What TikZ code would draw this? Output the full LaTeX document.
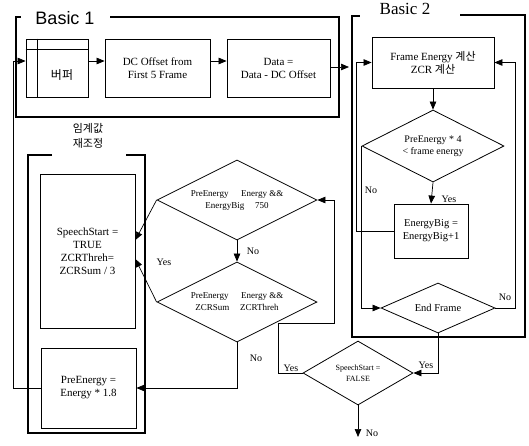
\documentclass[tikz,border=0pt]{standalone}
\usepackage{fontspec}
\setmainfont{Liberation Serif}
\newfontfamily\kr{Noto Sans CJK KR}
\newfontfamily\hdsans{Liberation Sans}
\usetikzlibrary{shapes.geometric,arrows.meta}
\tikzset{
  box/.style={draw, line width=0.8pt, align=center, inner sep=0pt, font=\fontsize{11}{13}\selectfont},
  dia/.style={draw, diamond, aspect=2, line width=0.8pt, align=center, inner sep=0pt},
  conn/.style={line width=0.7pt},
  arr/.style={conn, -{Triangle[length=8pt,width=6.5pt]}},
  bracket/.style={line width=2.4pt},
  lbl/.style={font=\fontsize{10}{12}\selectfont, inner sep=0pt},
}
\begin{document}
\begin{tikzpicture}[x=1pt,y=-1pt]
\useasboundingbox (0,0) rectangle (529,445);
% helper coordinates
\coordinate (r1) at (0,61);
\coordinate (r2) at (0,67);
\coordinate (lx) at (13,0);
\coordinate (fx) at (356,0);
\coordinate (rx) at (515,0);
\coordinate (ya) at (0,240);
\coordinate (yb) at (0,259);
\coordinate (b2in) at (349,67);
\coordinate (loopA) at (278,323);
\coordinate (loopB) at (334,323);
\coordinate (outend) at (358,437);

% brackets
\draw[bracket] (110,17) -- (339,17) -- (339,117) -- (16,117) -- (16,17) -- (21,17);
\node[font=\hdsans\fontsize{18}{20}\selectfont, inner sep=0pt] (t1) at (65,18) {Basic 1};
\draw[bracket] (460,15) -- (525,15) -- (525,337) -- (352,337) -- (352,16) -- (360,16);
\node[font=\fontsize{17}{19}\selectfont, inner sep=0pt] (t2) at (405,9) {Basic 2};
\draw[bracket] (52,155) -- (28,155) -- (28,433) -- (145,433) -- (145,155) -- (126,155);
\node[font=\kr\fontsize{11}{15}\selectfont, align=center, inner sep=0pt] (t3) at (88,136) {임계값\\재조정};

% nodes
\node[box, minimum width=62pt, minimum height=58pt] (buf) at (57,68) {};
\draw[line width=0.8pt] ([xshift=12pt]buf.north west) -- ([xshift=12pt]buf.south west);
\draw[line width=0.8pt] ([yshift=-11pt]buf.north west) -- ([yshift=-11pt]buf.north east);
\node[font=\kr\fontsize{12}{14}\selectfont, inner sep=0pt] (buftxt) at (62,75) {버퍼};
\node[box, minimum width=105pt, minimum height=58pt] (dc) at (157.5,68) {DC Offset from\\First 5 Frame};
\node[box, minimum width=103pt, minimum height=58pt] (data) at (278.5,68) {Data =\\Data - DC Offset};
\node[box, minimum width=122pt, minimum height=51pt] (fe) at (433,62.5) {Frame Energy {\kr 계산}\\ZCR {\kr 계산}};
\node[dia, minimum width=142pt, minimum height=72pt, font=\fontsize{10}{12}\selectfont] (d4) at (433,146) {PreEnergy * 4\\{<}\ frame energy};
\node[box, minimum width=74pt, minimum height=54pt, font=\fontsize{10.5}{13}\selectfont] (eb) at (431,231) {EnergyBig =\\EnergyBig+1};
\node[dia, minimum width=114pt, minimum height=50pt, font=\fontsize{10.5}{12}\selectfont] (ef) at (438,308) {End Frame};
\node[dia, minimum width=110pt, minimum height=64pt, font=\fontsize{8}{11}\selectfont] (ssf) at (358,373) {SpeechStart =\\FALSE};
\node[dia, minimum width=160pt, minimum height=80pt, font=\fontsize{9}{12}\selectfont] (d1) at (237,200) {PreEnergy\hspace{1.4em}Energy \&\&\\EnergyBig\hspace{1.2em}750};
\node[dia, minimum width=160pt, minimum height=80pt, font=\fontsize{9}{12}\selectfont] (d2) at (237,302) {PreEnergy\hspace{1.4em}Energy \&\&\\ZCRSum\hspace{1.2em}ZCRThreh};
\node[box, minimum width=95pt, minimum height=154pt] (sst) at (87.5,251) {SpeechStart =\\TRUE\\ZCRThreh=\\ZCRSum / 3};
\node[box, minimum width=95pt, minimum height=80pt] (pe) at (88.5,388) {PreEnergy =\\Energy * 1.8};

% connectors
\draw[arr] (pe.west) -- (pe.west -| lx) |- (buf.west |- r1);
\draw[arr] (buf.east |- r1) -- (dc.west |- r1);
\draw[arr] (dc.east |- r1) -- (data.west |- r1);
\draw[arr] (data.east |- r2) -- (b2in);
\draw[arr] (fe.south) -- (d4.north);
\draw[arr] (d4.south) -- (eb.north);
\draw[arr] (d4.west) |- (ef.west);
\draw[arr] (eb.west) -- (eb.west -| fx) |- (fe.west);
\draw[arr] (ef.east) -- (ef.east -| rx) |- (fe.east);
\draw[arr] (ef.south) |- (ssf.east);
\draw[arr] (ssf.west) -| (loopA) -- (loopB) |- (d1.east);
\draw[arr] (ssf.south) -- (outend);
\draw[arr] (d1.south) -- (d2.north);
\draw[arr] (d1.west) -- (sst.east |- ya);
\draw[arr] (d2.west) -- (sst.east |- yb);
\draw[arr] (d2.south) |- (pe.east);

% labels
\node[lbl] (l1) at (449,199) {Yes};
\node[lbl] (l2) at (371,190) {No};
\node[lbl] (l3) at (505,297) {No};
\node[lbl] (l4) at (426,365) {Yes};
\node[lbl] (l5) at (291,368) {Yes};
\node[lbl] (l6) at (372,433) {No};
\node[lbl] (l7) at (253,251) {No};
\node[lbl] (l8) at (164,262) {Yes};
\node[lbl] (l9) at (256,358) {No};
\end{tikzpicture}
\end{document}
